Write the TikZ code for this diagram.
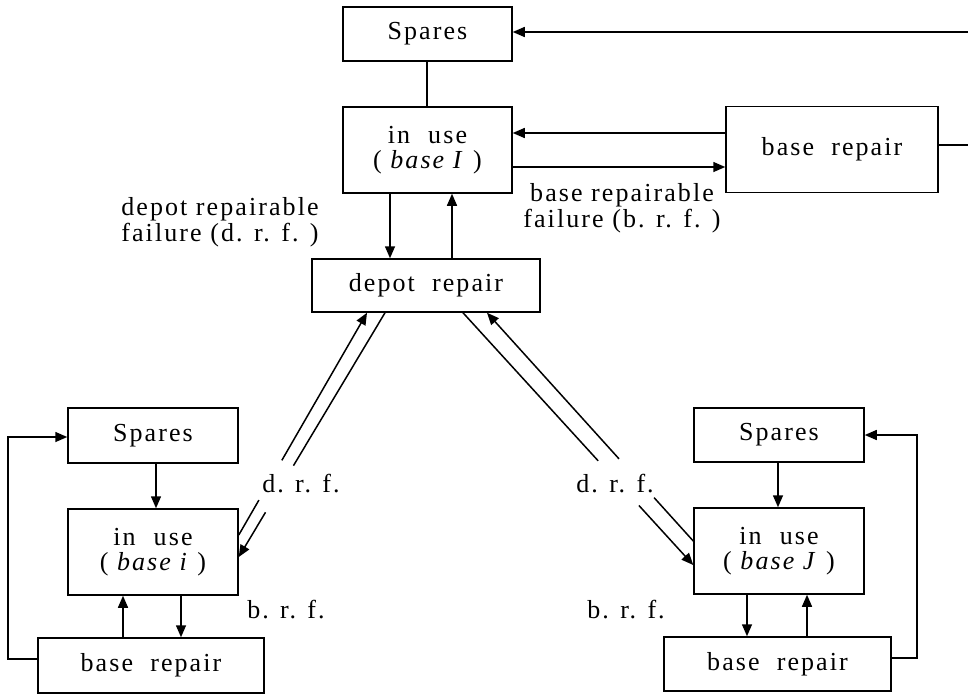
\documentclass[tikz,border=0pt]{standalone}
\usepackage{fontspec}
\setmainfont{Liberation Serif}[LetterSpace=8]
\usetikzlibrary{arrows.meta,calc}
\begin{document}
\begin{tikzpicture}[x=0.5pt,y=-0.5pt,
  box/.style={draw, line width=0.75pt, inner sep=0pt, align=center, font=\fontsize{13}{12.5}\selectfont},
  lbl/.style={inner sep=0pt, align=center, font=\fontsize{13}{11}\selectfont},
  ln/.style={line width=0.75pt},
  arr/.style={line width=0.75pt, -{Triangle[length=6pt,width=5pt]}},
]
\useasboundingbox (0,0) rectangle (968,697);
% boxes
\node[box, minimum width=84.5pt, minimum height=27pt] (SpI) at (427.5,34) {Spares};
\node[box, minimum width=84.5pt, minimum height=43pt] (iuI) at (427.5,150) {in\hspace{9pt}use\\( \textit{base I} )};
\node[box, minimum width=106pt, minimum height=43pt] (brI) at (832,149.5) {base\ \ repair};
\node[box, minimum width=114pt, minimum height=26.5pt] (dep) at (426,285.5) {depot\ \ repair};
\node[box, minimum width=85pt, minimum height=27.5pt] (Spi) at (153,435.5) {Spares};
\node[box, minimum width=85pt, minimum height=43pt] (iui) at (153,552) {in\hspace{9pt}use\\( \textit{base i} )};
\node[box, minimum width=113pt, minimum height=27.5pt] (bri) at (151,665.5) {base\ \ repair};
\node[box, minimum width=85pt, minimum height=27pt] (SpJ) at (779,435) {Spares};
\node[box, minimum width=85pt, minimum height=43pt] (iuJ) at (779,551) {in\hspace{9pt}use\\( \textit{base J} )};
\node[box, minimum width=113.5pt, minimum height=27pt] (brJ) at (777.5,664) {base\ \ repair};
% labels
\node[lbl] (t1) at (220,222) {depot repairable\\failure (d. r. f. )};
\node[lbl] (t2) at (622,208) {base repairable\\failure (b. r. f. )};
\node[lbl] (t3) at (301,484) {d. r. f.};
\node[lbl] (t4) at (286,610) {b. r. f.};
\node[lbl] (t5) at (615,484) {d. r. f.};
\node[lbl] (t6) at (626,610) {b. r. f.};
% helper coordinates
\coordinate (v1) at (427,0);
\coordinate (v2) at (390,0);
\coordinate (v3) at (452,0);
\coordinate (h1) at (0,133);
\coordinate (h2) at (0,167);
\coordinate (c1) at (975,145);
\coordinate (c2) at (975,32);
% top section
\draw[ln] (SpI.south -| v1) -- (iuI.north -| v1);
\draw[arr] (iuI.south -| v2) -- (dep.north -| v2);
\draw[arr] (dep.north -| v3) -- (iuI.south -| v3);
\draw[arr] (brI.west |- h1) -- (iuI.east |- h1);
\draw[arr] (iuI.east |- h2) -- (brI.west |- h2);
\draw[arr] (brI.east |- c1) -- (c1) -- (c2) -- (SpI.east |- c2);
% left bottom
\coordinate (v4) at (156,0);
\coordinate (v5) at (181,0);
\coordinate (v6) at (123,0);
\coordinate (v7) at (8,0);
\coordinate (h3) at (0,659);
\coordinate (h4) at (0,437);
\draw[arr] (Spi.south -| v4) -- (iui.north -| v4);
\draw[arr] (iui.south -| v5) -- (bri.north -| v5);
\draw[arr] (bri.north -| v6) -- (iui.south -| v6);
\draw[arr] (bri.west |- h3) -- (v7 |- h3) -- (v7 |- h4) -- (Spi.west |- h4);
% right bottom
\coordinate (v8) at (778,0);
\coordinate (v9) at (747,0);
\coordinate (v10) at (807,0);
\coordinate (v11) at (917,0);
\coordinate (h5) at (0,658);
\coordinate (h6) at (0,435);
\draw[arr] (SpJ.south -| v8) -- (iuJ.north -| v8);
\draw[arr] (iuJ.south -| v9) -- (brJ.north -| v9);
\draw[arr] (brJ.north -| v10) -- (iuJ.south -| v10);
\draw[arr] (brJ.east |- h5) -- (v11 |- h5) -- (v11 |- h6) -- (SpJ.east |- h6);
% diagonals
\coordinate (yL1) at (0,535);
\coordinate (xL1) at (367,0);
\coordinate (L1s) at (iui.east |- yL1);
\coordinate (L1e) at (dep.south -| xL1);
\draw[ln] (L1s) -- ($(L1s)!0.157!(L1e)$);
\draw[arr] ($(L1s)!0.336!(L1e)$) -- (L1e);
\coordinate (yL2) at (0,557);
\coordinate (xL2) at (385,0);
\coordinate (L2s) at (dep.south -| xL2);
\coordinate (L2e) at (iui.east |- yL2);
\draw[ln] (L2s) -- ($(L2s)!0.626!(L2e)$);
\draw[arr] ($(L2s)!0.817!(L2e)$) -- (L2e);
\coordinate (xR1) at (463,0);
\coordinate (yR1) at (0,565);
\coordinate (R1s) at (dep.south -| xR1);
\coordinate (R1e) at (iuJ.west |- yR1);
\draw[ln] (R1s) -- ($(R1s)!0.587!(R1e)$);
\draw[arr] ($(R1s)!0.764!(R1e)$) -- (R1e);
\coordinate (yR2) at (0,541);
\coordinate (xR2) at (487,0);
\coordinate (R2s) at (iuJ.west |- yR2);
\coordinate (R2e) at (dep.south -| xR2);
\draw[ln] (R2s) -- ($(R2s)!0.19!(R2e)$);
\draw[arr] ($(R2s)!0.36!(R2e)$) -- (R2e);
\end{tikzpicture}
\end{document}
